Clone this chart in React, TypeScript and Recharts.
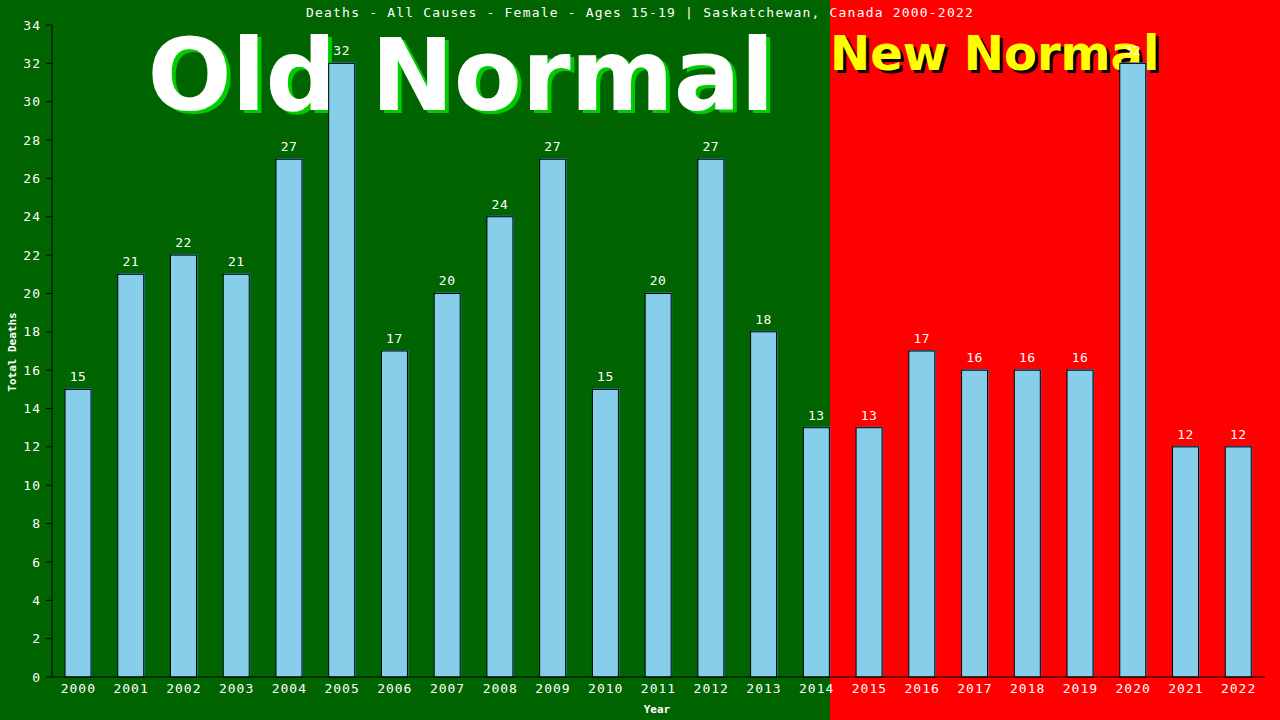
import React from 'react';
import { BarChart, Bar, XAxis, YAxis, LabelList } from 'recharts';

const years = ['2000', '2001', '2002', '2003', '2004', '2005', '2006', '2007', '2008', '2009', '2010', '2011',
  '2012', '2013', '2014', '2015', '2016', '2017', '2018', '2019', '2020', '2021', '2022'];
const deaths = [15, 21, 22, 21, 27, 32, 17, 20, 24, 27, 15, 20, 27, 18, 13, 13, 17, 16, 16, 16, 32, 12, 12];
const yTicks = [0, 2, 4, 6, 8, 10, 12, 14, 16, 18, 20, 22, 24, 26, 28, 30, 32, 34];

const title = 'Deaths - All Causes - Female - Ages 15-19 | Saskatchewan, Canada 2000-2022';

const data = years.map((year, i) => ({ year, deaths: deaths[i] }));

const mono = '"DejaVu Sans Mono", monospace';
const sans = '"DejaVu Sans", sans-serif';

const tickStyle = { fill: '#ffffff', fontFamily: mono, fontSize: 13, letterSpacing: 1 };

// light blue bar with a black edge and a thin blue offset shadow
const BarShape = (props: any) => {
  const { x, y, width, height } = props;
  if (!height) return null;
  return (
    <g>
      <rect x={x + 1} y={y - 1} width={width} height={height + 1} fill="#3f8fd0" />
      <rect x={x} y={y} width={width} height={height} fill="#87ceeb" stroke="#000000" strokeWidth={1} />
    </g>
  );
};

export default function App() {
  return (
    <div style={{ position: 'absolute', left: 0, top: 0, width: 1280, height: 720, overflow: 'hidden' }}>
      <div style={{ position: 'absolute', left: 0, top: 0, width: 830, height: 720, background: '#006400' }} />
      <div style={{ position: 'absolute', left: 830, top: 0, width: 450, height: 720, background: '#ff0000' }} />
      <svg width={1280} height={720} style={{ position: 'absolute', left: 0, top: 0 }}>
        <text x={640} y={17} textAnchor="middle" fill="#ffffff" fontFamily={mono} fontSize={13} letterSpacing={1.2}>
          {title}
        </text>
        <text x={465} y={113} textAnchor="middle" fill="#00cc00" fontFamily={sans} fontWeight="bold" fontSize={99}>
          Old Normal
        </text>
        <text x={461} y={110} textAnchor="middle" fill="#ffffff" fontFamily={sans} fontWeight="bold" fontSize={99}>
          Old Normal
        </text>
        <text x={833} y={73} fill="#000000" fontFamily={sans} fontWeight="bold" fontSize={48}>
          New Normal
        </text>
        <text x={830} y={70} fill="#ffff00" fontFamily={sans} fontWeight="bold" fontSize={48}>
          New Normal
        </text>
        <text x={16} y={352} textAnchor="middle" fill="#ffffff" fontFamily={mono} fontWeight="bold" fontSize={11}
          transform="rotate(-90 16 352)">
          Total Deaths
        </text>
        <text x={657} y={713} textAnchor="middle" fill="#ffffff" fontFamily={mono} fontWeight="bold" fontSize={11}>
          Year
        </text>
      </svg>
      <div style={{ position: 'absolute', left: 0, top: 0 }}>
        <BarChart width={1280} height={720} data={data} margin={{ top: 25, right: 15, bottom: 0, left: 0 }}>
          <XAxis
            dataKey="year"
            stroke="#000000"
            tick={tickStyle}
            tickLine={false}
            tickSize={0}
            tickMargin={7}
            height={43}
            interval={0}
          />
          <YAxis
            yAxisId="left"
            domain={[0, 34]}
            ticks={yTicks}
            interval={0}
            stroke="#000000"
            tick={tickStyle}
            tickSize={6}
            tickMargin={5}
            width={52}
          />
          <YAxis
            yAxisId="right"
            orientation="right"
            domain={[0, 34]}
            stroke="#000000"
            tick={false}
            tickLine={false}
            width={0}
          />
          <Bar yAxisId="left" dataKey="deaths" barSize={26} shape={BarShape} isAnimationActive={false}>
            <LabelList dataKey="deaths" position="top" offset={8} fill="#ffffff"
              style={{ fontFamily: mono, fontSize: 13, letterSpacing: 0.5 }} />
          </Bar>
        </BarChart>
      </div>
    </div>
  );
}
